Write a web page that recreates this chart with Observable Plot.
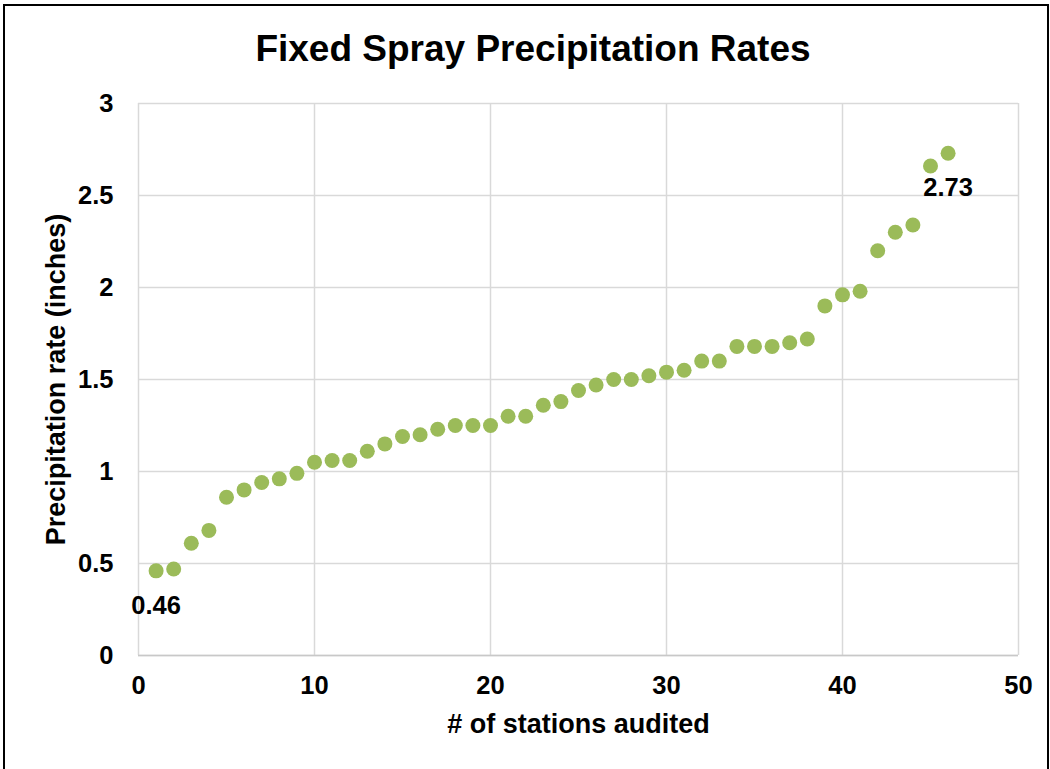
<!DOCTYPE html>
<html>
<head>
<meta charset="utf-8">
<script src="https://cdn.jsdelivr.net/npm/d3@7"></script>
<script src="https://cdn.jsdelivr.net/npm/@observablehq/plot@0.6"></script>
<style>
  html, body { margin: 0; padding: 0; background: #fff; }
  body { width: 1050px; height: 769px; position: relative; overflow: hidden; font-family: "Liberation Sans", Arial, sans-serif; }
  #frame { position: absolute; left: 3px; top: 4px; width: 1042px; height: 800px; border: 2px solid #000; }
  #title { position: absolute; left: 0; top: 28px; width: 1066px; text-align: center; font-size: 37px; font-weight: bold; color: #000; }
  #chart { position: absolute; left: 0; top: 80px; }
</style>
</head>
<body>
<div id="frame"></div>
<div id="title">Fixed Spray Precipitation Rates</div>
<div id="chart"></div>
<script>
// Audited stations, sorted by measured precipitation rate
const stations = d3.range(1, 47);
const rates = [
  0.46, 0.47, 0.61, 0.68, 0.86, 0.90, 0.94, 0.96, 0.99, 1.05,
  1.06, 1.06, 1.11, 1.15, 1.19, 1.20, 1.23, 1.25, 1.25, 1.25,
  1.30, 1.30, 1.36, 1.38, 1.44, 1.47, 1.50, 1.50, 1.52, 1.54,
  1.55, 1.60, 1.60, 1.68, 1.68, 1.68, 1.70, 1.72, 1.90, 1.96,
  1.98, 2.20, 2.30, 2.34, 2.66, 2.73
];
const xTicks = [0, 10, 20, 30, 40, 50];
const yTicks = [0, 0.5, 1, 1.5, 2, 2.5, 3];
// Min and max are called out with their values
const labelled = [0, rates.length - 1];

const data = stations.map((s, i) => ({station: s, rate: rates[i]}));
const labels = labelled.map(i => data[i]);

const plot = Plot.plot({
  width: 1050,
  height: 689,
  marginLeft: 138,
  marginRight: 32,
  marginTop: 23,
  marginBottom: 114,
  style: {fontFamily: "'Liberation Sans', Arial, sans-serif", color: "#000", background: "transparent", overflow: "visible"},
  x: {domain: [0, 50], ticks: xTicks},
  y: {domain: [0, 3], ticks: yTicks},
  marks: [
    Plot.gridX(xTicks, {stroke: "#d9d9d9", strokeOpacity: 1, strokeWidth: 1.5}),
    Plot.gridY(yTicks, {stroke: "#d9d9d9", strokeOpacity: 1, strokeWidth: 1.5}),
    Plot.ruleY([0], {stroke: "#c8c8c8", strokeWidth: 1.5}),
    Plot.axisX(xTicks, {tickSize: 0, tickPadding: 20, fontSize: 25.5, fontWeight: "bold", label: null}),
    Plot.axisY(yTicks, {tickSize: 0, tickPadding: 25, fontSize: 25.5, fontWeight: "bold", label: null, tickFormat: d => `${d}`}),
    Plot.text(["# of stations audited"], {frameAnchor: "bottom", lineAnchor: "middle", dy: 69, fontSize: 27, fontWeight: "bold"}),
    Plot.text(["Precipitation rate (inches)"], {frameAnchor: "left", textAnchor: "middle", lineAnchor: "middle", dx: -82, rotate: -90, fontSize: 27, fontWeight: "bold"}),
    Plot.dot(data, {x: "station", y: "rate", r: 7.5, fill: "#9bbb59", stroke: "none"}),
    Plot.text(labels, {x: "station", y: "rate", text: d => d.rate.toFixed(2), dy: 35, fontSize: 25.5, fontWeight: "bold"})
  ]
});
document.getElementById("chart").appendChild(plot);
</script>
</body>
</html>
